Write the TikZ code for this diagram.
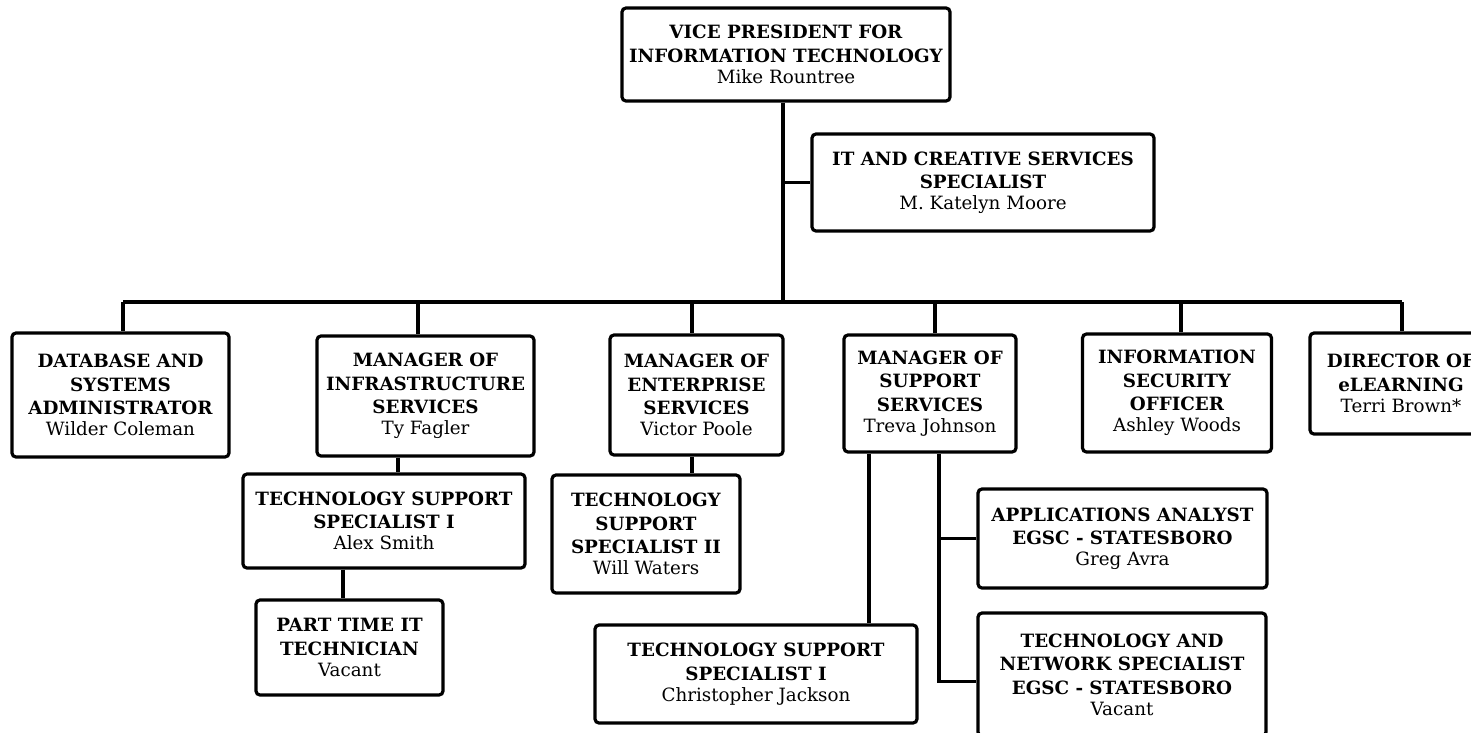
\documentclass[tikz,border=0pt]{standalone}
\usepackage{fontspec}
\setmainfont{DejaVu Serif}
\usepackage{tikz}

\tikzset{
    postbox/.style={draw, line width=3.2pt, rounded corners=4pt, align=center,
        inner sep=0pt, font=\fontsize{18.3pt}{23.5pt}\selectfont},
    link/.style={line width=3.2pt}
}

\begin{document}
\begin{tikzpicture}[x=1pt, y=-1pt]
    \useasboundingbox (0,0) rectangle (1471,732);
    \clip (0,0) rectangle (1471,732);

    % top
    \node[postbox, minimum width=328pt, minimum height=93pt] (vp) at (786,54.5) {\textbf{VICE PRESIDENT FOR}\\\textbf{INFORMATION TECHNOLOGY}\\[-2.5pt]Mike Rountree};
    \node[postbox, minimum width=342pt, minimum height=97pt] (its) at (983,182.5) {\textbf{IT AND CREATIVE SERVICES}\\\textbf{SPECIALIST}\\[-2.5pt]M. Katelyn Moore};

    % second row
    \node[postbox, minimum width=217pt, minimum height=124pt] (dba) at (120.5,395) {\textbf{DATABASE AND}\\\textbf{SYSTEMS}\\\textbf{ADMINISTRATOR}\\[-2.5pt]Wilder Coleman};
    \node[postbox, minimum width=217pt, minimum height=120pt] (infra) at (425.5,396) {\textbf{MANAGER OF}\\\textbf{INFRASTRUCTURE}\\\textbf{SERVICES}\\[-2.5pt]Ty Fagler};
    \node[postbox, minimum width=173pt, minimum height=120pt] (ent) at (696.5,395) {\textbf{MANAGER OF}\\\textbf{ENTERPRISE}\\\textbf{SERVICES}\\[-2.5pt]Victor Poole};
    \node[postbox, minimum width=172pt, minimum height=117pt] (sup) at (930,393.5) {\textbf{MANAGER OF}\\\textbf{SUPPORT}\\\textbf{SERVICES}\\[-2.5pt]Treva Johnson};
    \node[postbox, minimum width=189pt, minimum height=118pt] (sec) at (1177,393) {\textbf{INFORMATION}\\\textbf{SECURITY}\\\textbf{OFFICER}\\[-2.5pt]Ashley Woods};
    \node[postbox, minimum width=182pt, minimum height=101pt] (dir) at (1401,383.5) {\textbf{DIRECTOR OF}\\\textbf{eLEARNING}\\[-2.5pt]Terri Brown*};

    % lower rows
    \node[postbox, minimum width=282pt, minimum height=94pt] (tssa) at (384,521) {\textbf{TECHNOLOGY SUPPORT}\\\textbf{SPECIALIST I}\\[-2.5pt]Alex Smith};
    \node[postbox, minimum width=187pt, minimum height=95pt] (pt) at (349.5,647.5) {\textbf{PART TIME IT}\\\textbf{TECHNICIAN}\\[-2.5pt]Vacant};
    \node[postbox, minimum width=188pt, minimum height=118pt] (tssb) at (646,534) {\textbf{TECHNOLOGY}\\\textbf{SUPPORT}\\\textbf{SPECIALIST II}\\[-2.5pt]Will Waters};
    \node[postbox, minimum width=322pt, minimum height=98pt] (cj) at (756,674) {\textbf{TECHNOLOGY SUPPORT}\\\textbf{SPECIALIST I}\\[-2.5pt]Christopher Jackson};
    \node[postbox, minimum width=289pt, minimum height=99pt] (app) at (1122.5,538.5) {\textbf{APPLICATIONS ANALYST}\\\textbf{EGSC - STATESBORO}\\[-2.5pt]Greg Avra};
    \node[postbox, minimum width=288pt, minimum height=123pt] (net) at (1122,674.5) {\textbf{TECHNOLOGY AND}\\\textbf{NETWORK SPECIALIST}\\\textbf{EGSC - STATESBORO}\\[-2.5pt]Vacant};

    % connectors
    \coordinate (busl) at (123,302);
    \coordinate (busr) at (1402,302);
    \coordinate (vpx) at (783,302);
    \coordinate (tssx) at (398,0);
    \coordinate (ptx) at (343,0);
    \coordinate (entx) at (692,0);
    \coordinate (cjx) at (869,0);
    \coordinate (netx) at (939,0);
    \draw[link] (vpx |- vp.south) -- (vpx);
    \draw[link] (vpx |- its.west) -- (its.west);
    \draw[link] (busl) -- (busr);
    \foreach \n/\x in {dba/123, infra/418, ent/692, sup/935, sec/1181, dir/1402} {
        \draw[link] (\x,302) -- (\x,0 |- \n.north);
    }
    \draw[link] (tssx |- infra.south) -- (tssx |- tssa.north);
    \draw[link] (ptx |- tssa.south) -- (ptx |- pt.north);
    \draw[link] (entx |- ent.south) -- (entx |- tssb.north);
    \draw[link] (cjx |- sup.south) -- (cjx |- cj.north);
    \draw[link] (netx |- sup.south) |- ([yshift=-7pt]net.west);
    \draw[link] (netx |- app.west) -- (app.west);
\end{tikzpicture}
\end{document}
